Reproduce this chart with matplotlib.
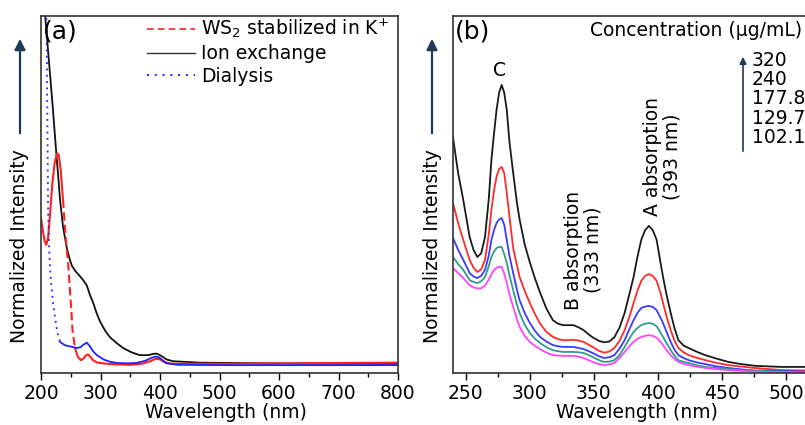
import numpy as np
import matplotlib.pyplot as plt
from matplotlib.lines import Line2D
from matplotlib.ticker import MultipleLocator

plt.rcParams['font.family'] = 'DejaVu Sans'
plt.rcParams['font.size'] = 13.5

# ---- panel (a) data: normalized absorbance vs wavelength ----
wl_ion = [200, 207, 213, 220, 225, 229, 232, 237, 243, 248, 252, 258, 265, 271, 277,
          282, 287, 293, 299, 308, 316, 327, 338, 352, 366, 380, 390, 395, 402, 411,
          422, 467, 580, 700, 800]
ion = [1.2, 1.0, 0.88, 0.74, 0.63, 0.55, 0.485, 0.41, 0.353, 0.32, 0.30, 0.285, 0.272,
       0.26, 0.245, 0.22, 0.2, 0.17, 0.145, 0.118, 0.1, 0.084, 0.07, 0.058, 0.05, 0.05,
       0.054, 0.054, 0.048, 0.038, 0.033, 0.029, 0.027, 0.026, 0.026]

wl_k = [200, 203, 206, 209, 212, 215, 219, 223, 227, 230, 233, 237, 241, 246, 250, 253,
        257, 262, 267, 271, 276, 279, 283, 288, 295, 310, 327, 350, 370, 385, 393, 400,
        408, 420, 500, 600, 700, 800]
ws2_k = [0.434, 0.40, 0.37, 0.359, 0.38, 0.44, 0.53, 0.59, 0.615, 0.61, 0.57, 0.485,
         0.39, 0.297, 0.2, 0.12, 0.07, 0.045, 0.036, 0.04, 0.05, 0.052, 0.045, 0.035,
         0.029, 0.026, 0.024, 0.023, 0.026, 0.034, 0.04, 0.038, 0.03, 0.026, 0.026,
         0.027, 0.028, 0.029]

wl_dia = [200, 205, 209, 210, 211, 212, 214, 217, 220, 224, 228, 232, 240, 250, 260,
          266, 272, 277, 282, 288, 294, 305, 315, 327, 345, 360, 375, 385, 392, 398,
          405, 411, 430, 500, 600, 700, 800]
dialysis = [1.3, 1.15, 1.0, 0.85, 0.65, 0.45, 0.33, 0.25, 0.2, 0.15, 0.11, 0.087, 0.078,
            0.074, 0.07, 0.072, 0.08, 0.085, 0.075, 0.06, 0.05, 0.038, 0.032, 0.028,
            0.027, 0.028, 0.034, 0.042, 0.046, 0.044, 0.035, 0.027, 0.023, 0.022, 0.022,
            0.022, 0.022]

# ---- panel (b) data: spectra at several concentrations ----
wl_b = [240, 244, 248, 253, 256, 259, 262, 265, 268, 270,
        272, 274, 276, 278, 280, 282, 284, 287, 290, 292,
        296, 300, 304, 308, 313, 318, 322, 326, 330, 334,
        338, 342, 346, 349, 354, 358, 362, 366, 370, 374,
        378, 381, 384, 387, 390, 393, 396, 399, 402, 404,
        407, 410, 413, 416, 420, 424, 430, 437, 445, 455,
        465, 476, 497, 515, 530]
c320 = [0.66, 0.56, 0.485, 0.381, 0.345, 0.325, 0.335, 0.381, 0.49, 0.597,
        0.67, 0.737, 0.785, 0.807, 0.785, 0.737, 0.65, 0.56, 0.475, 0.43,
        0.36, 0.31, 0.265, 0.225, 0.18, 0.148, 0.138, 0.134, 0.134, 0.134,
        0.128, 0.12, 0.108, 0.10, 0.09, 0.086, 0.088, 0.10, 0.127, 0.168,
        0.225, 0.269, 0.325, 0.373, 0.40, 0.412, 0.40, 0.373, 0.31, 0.269,
        0.215, 0.168, 0.125, 0.092, 0.077, 0.07, 0.06, 0.05, 0.041, 0.031,
        0.025, 0.02, 0.017, 0.017, 0.016]
c240 = [0.476, 0.42, 0.373, 0.317, 0.295, 0.283, 0.29, 0.317, 0.39, 0.457,
        0.51, 0.55, 0.572, 0.577, 0.56, 0.504, 0.44, 0.35, 0.3, 0.269,
        0.23, 0.196, 0.165, 0.138, 0.115, 0.101, 0.095, 0.092, 0.092, 0.093,
        0.091, 0.087, 0.079, 0.073, 0.062, 0.057, 0.06, 0.07, 0.09, 0.12,
        0.16, 0.196, 0.23, 0.258, 0.272, 0.277, 0.272, 0.258, 0.225, 0.196,
        0.155, 0.12, 0.09, 0.07, 0.058, 0.05, 0.043, 0.036, 0.029, 0.022,
        0.018, 0.014, 0.008, 0.007, 0.006]
c177 = [0.378, 0.345, 0.317, 0.28, 0.27, 0.266, 0.272, 0.289, 0.33, 0.373,
        0.40, 0.42, 0.43, 0.434, 0.415, 0.373, 0.33, 0.28, 0.232, 0.204,
        0.168, 0.14, 0.118, 0.101, 0.088, 0.078, 0.075, 0.073, 0.073, 0.073,
        0.07, 0.067, 0.061, 0.056, 0.047, 0.042, 0.044, 0.05, 0.068, 0.092,
        0.125, 0.148, 0.168, 0.182, 0.186, 0.188, 0.185, 0.176, 0.155, 0.14,
        0.113, 0.087, 0.065, 0.05, 0.042, 0.036, 0.03, 0.025, 0.019, 0.014,
        0.01, 0.007, 0.006, 0.004, 0.004]
c129 = [0.325, 0.305, 0.289, 0.26, 0.255, 0.252, 0.257, 0.269, 0.30, 0.325,
        0.34, 0.35, 0.353, 0.353, 0.333, 0.308, 0.275, 0.232, 0.19, 0.168,
        0.135, 0.112, 0.096, 0.084, 0.072, 0.064, 0.061, 0.059, 0.059, 0.059,
        0.058, 0.056, 0.05, 0.045, 0.036, 0.031, 0.032, 0.036, 0.05, 0.073,
        0.098, 0.115, 0.126, 0.134, 0.138, 0.14, 0.138, 0.131, 0.114, 0.101,
        0.082, 0.064, 0.048, 0.036, 0.031, 0.028, 0.022, 0.017, 0.014, 0.011,
        0.008, 0.006, 0.004, 0.002, 0.002]
c102 = [0.294, 0.28, 0.266, 0.246, 0.24, 0.237, 0.237, 0.245, 0.262, 0.277,
        0.288, 0.295, 0.297, 0.297, 0.278, 0.252, 0.222, 0.185, 0.15, 0.129,
        0.104, 0.087, 0.076, 0.067, 0.057, 0.05, 0.049, 0.048, 0.048, 0.048,
        0.046, 0.042, 0.036, 0.031, 0.025, 0.022, 0.024, 0.028, 0.042, 0.059,
        0.076, 0.087, 0.095, 0.101, 0.104, 0.106, 0.104, 0.099, 0.087, 0.078,
        0.063, 0.05, 0.039, 0.031, 0.026, 0.022, 0.018, 0.014, 0.011, 0.008,
        0.006, 0.004, 0.002, 0.001, 0.001]
conc_labels = ['320', '240', '177.8', '129.7', '102.1']
conc_colors = ['#1a1a1a', '#ff2b2b', '#3b3bff', '#2e9c8c', '#ff45ff']

W, H = 805, 425
fig = plt.figure(figsize=(W / 100, H / 100), dpi=100)


def fx(x):
    return x / W


def fy(y):
    return 1 - y / H


ax1 = fig.add_axes([fx(41), fy(373), 357 / W, 357 / H])
ax2 = fig.add_axes([fx(453), fy(373), 397 / W, 357 / H])

# panel (a): steep parts of the red/blue traces drawn dashed/dotted like the original
ax1.plot(wl_ion, ion, color='#111111', lw=1.3)
ax1.plot(wl_k[:12], ws2_k[:12], color='#ff2020', lw=1.5)
ax1.plot(wl_k[11:17], ws2_k[11:17], color='#ff2020', lw=1.5, ls=(0, (4, 2)))
ax1.plot(wl_k[16:], ws2_k[16:], color='#ff2020', lw=1.5)
ax1.plot(wl_dia[:12], dialysis[:12], color='#2020ff', lw=1.3, ls=(0, (1, 2.5)))
ax1.plot(wl_dia[11:], dialysis[11:], color='#2020ff', lw=1.3)
ax1.set_xlim(200, 800)
ax1.set_ylim(0, 1)

handles = [Line2D([], [], color='#ff2020', lw=1.2, ls=(0, (4, 2.5))),
           Line2D([], [], color='#333333', lw=1.0),
           Line2D([], [], color='#2020ff', lw=1.4, ls=(0, (1, 3)))]
labels = ['WS$_2$ stabilized in K$^{+}$', 'Ion exchange', 'Dialysis']
ax1.legend(handles, labels, loc='upper right', bbox_to_anchor=(fx(389), fy(17)),
           bbox_transform=fig.transFigure, frameon=False, borderpad=0,
           borderaxespad=0, handlelength=2.6, handletextpad=0.3, labelspacing=0.2)

# panel (b)
series = [c320, c240, c177, c129, c102]
for vals, col in zip(series, conc_colors):
    ax2.plot(wl_b, vals, color=col, lw=1.3)
ax2.set_xlim(240, 550)
ax2.set_ylim(0, 1)

for ax, major, minor in [(ax1, 100, 50), (ax2, 50, 25)]:
    ax.xaxis.set_major_locator(MultipleLocator(major))
    ax.xaxis.set_minor_locator(MultipleLocator(minor))
    ax.set_yticks([])
    ax.tick_params(axis='x', which='major', direction='out', length=5, width=1,
                   pad=3, labelsize=13.5)
    ax.tick_params(axis='x', which='minor', direction='out', length=3, width=1)
    for s in ax.spines.values():
        s.set_linewidth(1.2)
        s.set_color('#333333')
    ax.set_xlabel('Wavelength (nm)', va='center')

ax1.xaxis.set_label_coords((226 - 41) / 357, (373 - 412) / 357)
ax2.xaxis.set_label_coords((637 - 453) / 397, (373 - 412) / 357)

# y labels with arrows
arrow_col = '#1d3a56'
for xl in (20, 432):
    fig.text(fx(xl), fy(246), 'Normalized Intensity', rotation=90, ha='center',
             va='center', fontsize=13.5)
    fig.add_artist(plt.Annotation('', xy=(fx(xl), fy(36)), xytext=(fx(xl), fy(136)),
                                  xycoords='figure fraction',
                                  arrowprops=dict(arrowstyle='-|>', color=arrow_col,
                                                  lw=1.6, mutation_scale=16)))

fig.text(fx(43), fy(32), '(a)', fontsize=18, ha='left', va='center')
fig.text(fx(455), fy(32), '(b)', fontsize=18, ha='left', va='center')

# peak annotations
fig.text(fx(499), fy(71), 'C', ha='center', va='center')
fig.text(fx(583), fy(250), 'B absorption\n(333 nm)', rotation=90, ha='center',
         va='center', linespacing=1.0)
fig.text(fx(662), fy(157), 'A absorption\n(393 nm)', rotation=90, ha='center',
         va='center', linespacing=1.0)

# concentration key
fig.text(fx(590), fy(30), 'Concentration (\u00b5g/mL)', ha='left', va='center')
fig.add_artist(plt.Annotation('', xy=(fx(743), fy(54)), xytext=(fx(743), fy(154)),
                              xycoords='figure fraction',
                              arrowprops=dict(arrowstyle='-|>', color=arrow_col,
                                              lw=1.2, mutation_scale=10)))
for lab, yy in zip(conc_labels, [60, 79.5, 99, 118, 137.5]):
    fig.text(fx(752), fy(yy), lab, ha='left', va='center')

fig.savefig('out.png', dpi=100)
